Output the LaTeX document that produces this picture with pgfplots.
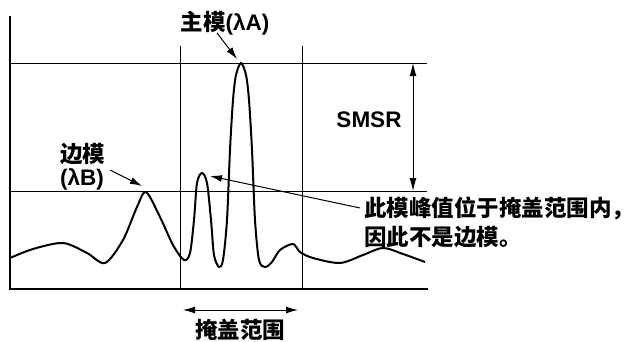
\documentclass[border=0pt]{standalone}
\usepackage{fontspec}
\setmainfont{Liberation Sans}
\newfontfamily\cjk{Noto Sans CJK SC}
\usepackage{pgfplots}
\pgfplotsset{compat=1.18}
\usetikzlibrary{arrows.meta}
\tikzset{lbl/.style={font=\fontsize{22.5}{28}\selectfont\bfseries, inner sep=0pt}}
\begin{document}
\begin{tikzpicture}[x=1pt,y=1pt]
\useasboundingbox (0,0) rectangle (643,341);
\begin{axis}[
  at={(10pt,52pt)}, anchor=origin,
  scale only axis, width=417pt, height=272pt,
  xmin=10, xmax=427, ymin=52, ymax=324,
  axis x line=bottom, axis y line=left,
  axis line style={-, line width=2.4pt, line cap=rect},
  xtick=\empty, ytick=\empty,
  clip=false,
]
% reference lines
\draw[line width=0.8pt] (axis cs:10,278) -- (axis cs:427,278);
\draw[line width=0.8pt] (axis cs:10,150) -- (axis cs:427,150);
\draw[line width=0.8pt] (axis cs:180,295) -- (axis cs:180,52);
\draw[line width=0.8pt] (axis cs:302,295) -- (axis cs:302,52);
% spectrum
\addplot[black, line width=2pt, smooth, tension=0.5] coordinates {
(10,83) (33,92) (63,98) (87,88) (105,78) (123,101) (137,134) (146,149)
(160,124) (173,96) (184,81) (190,88) (194,121) (197,158) (202,168)
(207,158) (211,121) (214,86) (219,74) (223,81) (227,121) (230,191)
(233,241) (236,266) (241,278) (246,266) (249,241) (252,191) (255,121)
(259,81) (265,74) (272,79) (280,91) (293,97) (300,89) (313,83)
(340,78) (363,86) (383,93) (403,87) (425,79)
};
% SMSR arrow
\draw[line width=1pt, {Latex[length=13pt,width=7pt]}-{Latex[length=13pt,width=7pt]}] (axis cs:413,278) -- (axis cs:413,150);
\node[lbl] at (axis cs:369,221) {SMSR};
% main mode
\node[lbl] at (axis cs:225,318) {{\cjk\bfseries 主模}(λA)};
\draw[line width=1pt, -{Latex[length=12pt,width=7pt]}] (axis cs:217,308) -- (axis cs:237,282);
% side mode
\node[lbl, anchor=west] at (axis cs:60,187) {\cjk\bfseries 边模};
\node[lbl, anchor=west] at (axis cs:60,162) {(λB)};
\draw[line width=1pt, -{Latex[length=12pt,width=7pt]}] (axis cs:110,171) -- (axis cs:142,155);
% annotation
\draw[line width=1pt, -{Latex[length=12pt,width=7pt]}] (axis cs:360,133) -- (axis cs:210,165);
\node[lbl, anchor=west] at (axis cs:364,133) {\cjk\bfseries 此模峰值位于掩盖范围内，};
\node[lbl, anchor=west] at (axis cs:364,104) {\cjk\bfseries 因此不是边模。};
% mask range
\draw[line width=1pt, {Latex[length=12pt,width=7pt]}-{Latex[length=12pt,width=7pt]}] (axis cs:183,31) -- (axis cs:298,31);
\node[lbl] at (axis cs:240,11) {\cjk\bfseries 掩盖范围};
\end{axis}
\end{tikzpicture}
\end{document}
